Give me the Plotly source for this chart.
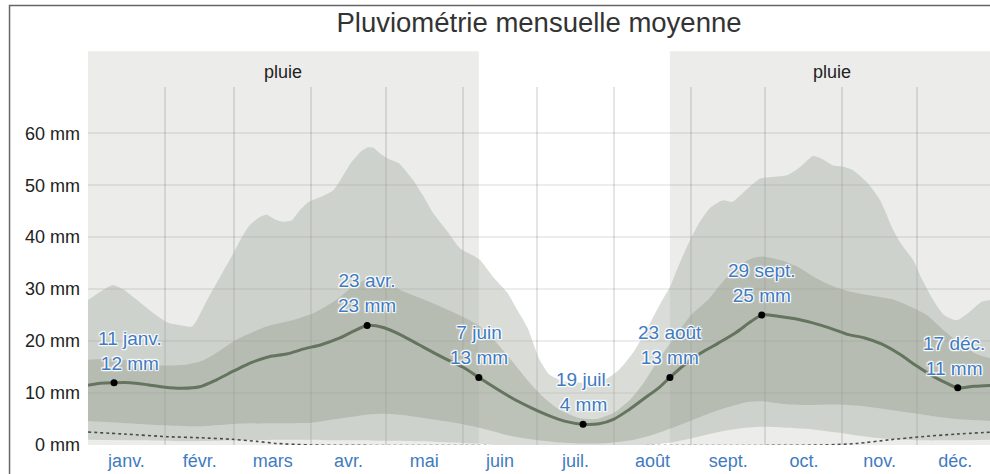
import plotly.graph_objects as go

# Calendar (day-of-year axis, 0 = 1 Jan)
months = ["janv.", "févr.", "mars", "avr.", "mai", "juin",
          "juil.", "août", "sept.", "oct.", "nov.", "déc."]
month_len = [31, 28, 31, 30, 31, 30, 31, 31, 30, 31, 30, 31]
month_start = [sum(month_len[:i]) for i in range(12)]
month_mid = [s + n / 2 for s, n in zip(month_start, month_len)]

# Average rainfall over a sliding 31-day window (mm)
mean_day = [0, 5, 10.5, 17, 24, 31, 38, 45, 52, 59, 66, 73, 80, 87, 94, 101, 107,
            112.5, 119, 126, 133, 140, 147, 151, 157.5, 164, 171, 178, 185, 192,
            199.5, 206, 212, 218, 224, 230, 234.5, 240, 247, 254, 261, 267, 271.5,
            278, 285, 292, 299, 306, 313, 320, 327, 334, 341, 346, 350.5, 357, 365]
mean_mm = [11.5, 11.9, 12, 12.0, 11.6, 11.1, 10.9, 11.2, 12.6, 14.3, 15.9, 17.0, 17.5,
           18.5, 19.3, 20.5, 21.9, 23, 22.6, 21.2, 19.4, 17.6, 15.9, 15.0, 13, 11.0,
           9.0, 7.3, 5.8, 4.6, 4, 4.1, 5.0, 6.8, 8.9, 11.0, 13, 15.3, 17.7, 19.6, 21.6,
           23.7, 25, 24.8, 24.3, 23.5, 22.5, 21.3, 20.6, 19.4, 17.5, 15.2, 13.1, 11.9,
           11, 11.3, 11.5]

# 90th percentile
p90_day = [0, 5, 10, 14, 20, 26, 32, 38, 42, 48, 54, 58, 62, 65, 69, 72, 75, 78, 82,
           85, 89, 94, 99, 103, 106, 110, 113, 115, 118, 121, 125, 128, 131, 135, 139,
           145, 150, 155, 158, 163, 169, 173, 177, 182, 186, 192, 200, 208, 214, 220,
           226, 231, 234.6, 238, 242.6, 246, 250.7, 255.9, 259.6, 265, 270.9, 276,
           281.7, 287, 292.2, 296, 300.3, 303.9, 308.3, 314, 319.2, 324.5, 328, 332.5,
           336, 340.6, 345, 350, 355, 360, 365]
p90_mm = [27.9, 29.5, 30.8, 30.0, 27.8, 25.5, 23.6, 23.0, 22.8, 27.9, 33, 36.4, 40,
          42.2, 43.8, 44.3, 43.5, 43.0, 43.2, 45.0, 46.8, 47.8, 49.1, 52, 54.3, 56.5,
          57.3, 57.2, 56.0, 55.1, 54.3, 52.8, 51.0, 48, 44.7, 41, 37.8, 36.5, 35.6,
          32.5, 29.3, 26, 22.7, 16.4, 13.5, 12.2, 12.0, 12.5, 14.5, 18, 23, 27.5, 30.5,
          34.5, 39.4, 42.5, 45.6, 47.1, 46.8, 49, 51.3, 51.6, 51.9, 53.5, 55.6, 55,
          53.8, 53.6, 52.9, 50.5, 47.1, 41.4, 38.5, 35.6, 32, 27.9, 25, 24, 25.5,
          27.5, 28]

# 75th percentile
p75_day = [0, 10, 20, 30, 40, 46, 52, 60, 72, 83, 91, 100, 106, 112, 118, 126, 139,
           151, 158, 165, 172, 178, 184, 190, 198, 205, 212, 218, 224, 230, 236, 243,
           250, 256, 262, 268, 272, 279, 286, 292, 299, 305, 315, 325, 332, 338, 345,
           352, 358, 365]
p75_mm = [16.4, 16.6, 16.0, 15.3, 15.5, 16.2, 17.8, 20.3, 22.8, 24.1, 25.4, 27.9, 30.2,
          31.8, 31.5, 29.8, 27.3, 24.7, 22.8, 19.5, 15.5, 12, 9, 6.8, 5.2, 5.0, 6.2,
          8.5, 12, 16.5, 20.5, 25, 28, 31.5, 34.5, 36.0, 36.3, 35.6, 34.3, 32.5, 30.8,
          29.8, 28.8, 27.9, 26.5, 25.0, 22, 19.3, 17.5, 16.5]

# 25th percentile
p25_day = [0, 15, 30, 45, 60, 75, 90, 100, 110, 118, 126, 135, 145, 155, 162, 170,
           180, 190, 200, 210, 220, 228, 235, 242, 250, 258, 265, 272, 280, 290, 300,
           310, 320, 330, 340, 350, 365]
p25_mm = [4.6, 4.2, 3.8, 3.6, 4.1, 4.2, 4.3, 5.0, 5.7, 6.0, 5.8, 5.2, 4.5, 3.6, 2.8,
          1.8, 1.0, 0.5, 0.3, 0.4, 1.0, 2.0, 3.2, 4.5, 6.0, 7.3, 8.2, 8.4, 7.9, 7.7,
          7.8, 7.6, 7.0, 6.3, 5.6, 5.0, 4.6]

# 10th percentile
p10_day = [0, 20, 40, 60, 80, 100, 120, 140, 155, 165, 225, 235, 245, 255, 265, 272,
           282, 292, 302, 312, 322, 335, 350, 365]
p10_mm = [1.0, 0.9, 0.7, 0.9, 1.0, 0.9, 0.8, 0.6, 0.3, 0.0, 0.0, 0.5, 1.5, 2.6, 3.3,
          3.5, 3.3, 3.0, 2.4, 1.7, 1.2, 0.9, 0.9, 1.0]

# Average liquid-equivalent snowfall (mm)
snow_day = [0, 15, 32, 45, 58, 68, 76, 90, 296, 310, 323, 336, 350, 365]
snow_mm = [2.5, 2.1, 1.6, 1.4, 1.1, 0.7, 0.3, 0.0, 0.0, 0.3, 1.0, 1.6, 2.1, 2.5]

# Highlighted days
peak_day = [10.5, 112.5, 157.5, 199.5, 234.5, 271.5, 350.5]
peak_date = ["11 janv.", "23 avr.", "7 juin", "19 juil.", "23 août", "29 sept.", "17 déc."]
peak_mm = [12, 23, 13, 4, 13, 25, 11]
label_xshift = [16, 0, 0, 0, 0, 0, -4]

# Wet season ("pluie") periods
wet_start = [0, 234.5]
wet_end = [157.5, 365]

y_ticks = [0, 10, 20, 30, 40, 50, 60]

FONT = "Liberation Sans, Arial, sans-serif"
BLUE = "#3f7bc1"
BAND_OUTER = "rgba(168,175,165,0.44)"
BAND_INNER = "rgba(148,155,139,0.40)"
LINE = "#65745f"

fig = go.Figure()

fig.add_trace(go.Scatter(x=p10_day, y=p10_mm, mode="lines", line=dict(width=0, shape="spline", smoothing=0.6),
                         hoverinfo="skip", showlegend=False))
fig.add_trace(go.Scatter(x=p90_day, y=p90_mm, mode="lines", line=dict(width=0, shape="spline", smoothing=0.6),
                         fill="tonexty", fillcolor=BAND_OUTER, hoverinfo="skip", showlegend=False))
fig.add_trace(go.Scatter(x=p25_day, y=p25_mm, mode="lines", line=dict(width=0, shape="spline", smoothing=0.6),
                         hoverinfo="skip", showlegend=False))
fig.add_trace(go.Scatter(x=p75_day, y=p75_mm, mode="lines", line=dict(width=0, shape="spline", smoothing=0.6),
                         fill="tonexty", fillcolor=BAND_INNER, hoverinfo="skip", showlegend=False))
fig.add_trace(go.Scatter(x=snow_day, y=snow_mm, mode="lines",
                         line=dict(color="#4a4a4a", width=1.6, dash="dot", shape="spline", smoothing=0.6),
                         hoverinfo="skip", showlegend=False))
fig.add_trace(go.Scatter(x=mean_day, y=mean_mm, mode="lines",
                         line=dict(color=LINE, width=3, shape="spline", smoothing=0.8),
                         showlegend=False))
fig.add_trace(go.Scatter(x=peak_day, y=peak_mm, mode="markers",
                         marker=dict(color="black", size=7), showlegend=False))

shapes = []
annotations = []
for a, b in zip(wet_start, wet_end):
    shapes.append(dict(type="rect", xref="x", yref="paper", x0=a, x1=b, y0=0, y1=1.1,
                       fillcolor="#ecedeb", line=dict(width=0), layer="below"))
    annotations.append(dict(x=(a + b) / 2, xref="x", y=1.042, yref="paper", text="pluie",
                            showarrow=False, yanchor="middle",
                            font=dict(family=FONT, size=18, color="#222")))

# Outer frame of the chart
shapes.append(dict(type="rect", xref="paper", yref="paper", x0=-0.087, x1=1.05, y0=-0.3, y1=1.2277,
                   line=dict(color="#666666", width=1.5), fillcolor="rgba(0,0,0,0)", layer="above"))

halo = ("1px 1px 1px #fff, -1px -1px 1px #fff, 1px -1px 1px #fff, -1px 1px 1px #fff, "
        "0 0 3px #fff")
for d, name, v, dx in zip(peak_day, peak_date, peak_mm, label_xshift):
    annotations.append(dict(x=d, y=v, xref="x", yref="y", text=f"{name}<br>{v} mm",
                            showarrow=False, yanchor="bottom", yshift=7, xshift=dx,
                            font=dict(family=FONT, size=19, color=BLUE, shadow=halo)))

fig.update_layout(
    width=990, height=474,
    margin=dict(l=88, r=0, t=87, b=29, pad=0),
    paper_bgcolor="white", plot_bgcolor="white",
    font=dict(family=FONT),
    title=dict(text="Pluviométrie mensuelle moyenne", x=0.5, xref="paper", xanchor="center",
               y=1 - 22 / 474, yref="container", yanchor="middle",
               font=dict(family=FONT, size=27.5, color="#333")),
    shapes=shapes, annotations=annotations,
    xaxis=dict(range=[0, 363.5], tickmode="array", tickvals=month_mid, ticktext=months,
               showgrid=False, zeroline=False, showline=False, ticks="",
               tickfont=dict(family=FONT, size=18, color=BLUE), ticklabelstandoff=3,
               minor=dict(tickvals=month_start[1:], showgrid=True,
                          gridcolor="rgba(0,0,0,0.10)", gridwidth=1.5, ticks="")),
    yaxis=dict(range=[0, 68.9], tickmode="array", tickvals=y_ticks,
               ticktext=[f"{v} mm" for v in y_ticks],
               showgrid=True, gridcolor="rgba(0,0,0,0.07)", gridwidth=1.5,
               zeroline=False, showline=False, ticks="",
               tickfont=dict(family=FONT, size=18, color="#222"), ticklabelstandoff=7),
)

fig.write_html("out.html")
